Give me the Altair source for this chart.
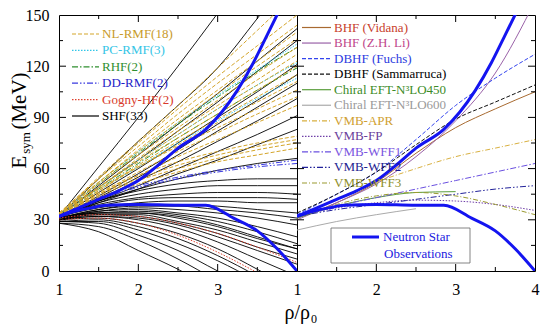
import altair as alt
import pandas as pd

W, H = 238, 256
FONT = "Liberation Serif, Times New Roman, serif"

# density grid (rho/rho0) shared by most model curves
RHO = [1.0, 1.5, 2.0, 2.5, 3.0, 3.5, 4.0]

# ---------------- left panel: phenomenological models ----------------
SHF = [
    [32, 61, 90, 120, 151, 182, 213],
    [32, 54, 76, 97, 119, 148, 178],
    [32, 50, 68, 86, 104, 123, 142],
    [32, 49, 65, 82, 99, 117, 135],
    [31, 46, 60, 75, 90, 105, 121],
    [31, 44, 57, 71, 86, 100, 115],
    [31, 43, 55, 68, 82, 96, 110],
    [31, 42, 53, 64, 76, 88, 101],
    [31, 41, 50, 60, 70, 80, 91],
    [31, 40, 48, 57, 65, 74, 83],
    [32, 41, 48, 54, 59, 63, 66],
    [32, 41, 47, 51, 53, 54, 54],
    [32, 40, 45, 48, 50, 50, 50],
    [32, 39, 43, 45, 46, 46, 45],
    [32, 38, 42, 43, 43, 43, 42],
    [32, 37, 40, 41, 41, 40, 40],
    [31, 36, 39, 39, 38, 36, 34],
    [31, 36, 38, 38, 36, 34, 31],
    [31, 35, 37, 36, 34, 31, 27],
    [31, 35, 36, 34, 31, 26, 20],
    [31, 34, 35, 33, 29, 23, 16],
    [30, 34, 34, 32, 27, 20, 13],
    [30, 34, 34, 31, 26, 19, 13],
    [30, 33, 33, 29, 24, 17, 10],
    [30, 33, 32, 28, 22, 14, 7],
    [30, 32, 31, 27, 20, 12, 4],
    [30, 32, 30, 25, 17, 7, -3],
    [30, 31, 28, 22, 13, 1, -12],
    [29, 30, 26, 19, 9, -3],
    [29, 29, 24, 16, 6, -6],
    [29, 28, 21, 12, 0, -12],
    [28, 26, 18, 7, -6],
    [28, 23, 12, 1, -12],
]
GOGNY = [
    [30, 31, 28, 21, 11, -1],
    [31, 33, 32, 28, 22, 14, 5],
]
DD_RMF = [
    [32, 42, 49, 54, 58, 61, 63],
    [32, 43, 50, 55, 59, 62, 65],
]
RHF = [
    [33, 51, 69, 86, 102, 117, 131],
    [32, 48, 63, 78, 92, 106, 119],
]
PC_RMF = [
    [33, 52, 70, 87, 103, 118, 133],
    [32, 49, 65, 80, 95, 109, 122],
    [32, 47, 61, 75, 88, 101, 113],
]
NL_RMF = [
    [33, 55, 76, 97, 119, 141, 163],
    [33, 54, 75, 95, 114, 132, 150],
    [34, 54, 73, 92, 110, 127, 144],
    [33, 52, 71, 89, 106, 123, 140],
    [34, 52, 70, 87, 104, 120, 136],
    [33, 51, 68, 84, 100, 116, 131],
    [32, 49, 66, 82, 97, 112, 127],
    [33, 49, 65, 80, 95, 109, 123],
    [34, 49, 64, 78, 92, 106, 120],
    [32, 47, 62, 76, 89, 102, 115],
    [33, 47, 61, 74, 87, 99, 111],
    [34, 48, 61, 73, 84, 95, 106],
    [32, 45, 58, 70, 81, 92, 102],
    [33, 45, 56, 67, 77, 87, 97],
    [33, 46, 56, 64, 70, 75, 79],
    [33, 45, 54, 62, 68, 73, 77],
    [32, 44, 53, 60, 66, 71, 75],
    [32, 43, 51, 58, 64, 68, 72],
]

# ---------------- neutron star observation bounds ----------------
NS_UP_RHO = [1.0, 1.25, 1.5, 1.75, 2.0, 2.25, 2.5, 2.85, 3.05, 3.25, 3.45, 3.6, 3.78]
NS_UP_E = [32, 37, 42, 47, 53, 62, 72, 83, 93, 106, 122, 136, 153]
NS_LO_RHO = [1.0, 1.2, 1.4, 1.6, 2.0, 2.5, 2.85, 3.2, 3.5, 3.75, 4.0]
NS_LO_E = [32, 35, 37, 38.5, 39, 38.5, 38.5, 31, 23.5, 13, 0]

# ---------------- right panel: microscopic models ----------------
RIGHT_LABELS = ["BHF (Vidana)", "BHF (Z.H. Li)", "DBHF (Fuchs)", "DBHF (Sammarruca)",
                "Chiral EFT-N³LO450", "Chiral EFT-N³LO600", "VMB-APR", "VMB-FP",
                "VMB-WFF1", "VMB-WFF2", "VMB-WFF3"]
RIGHT_E = [
    [31, 40, 52, 69, 84, 95, 105],
    [30, 40, 51, 67, 88, 116, 158],
    [33, 45, 58, 77, 97, 113, 127],
    [34, 45, 58, 74, 89, 99, 109],
    [31, 38, 43, 46, 46.5],
    [24, 29, 33, 36.5],
    [32, 42, 52, 60, 67, 72, 77],
    [32, 37, 40, 41.5, 41, 39, 35.5],
    [32, 38, 43, 48, 53, 58, 63],
    [32, 36, 39, 42, 45, 48, 50],
    [31, 39, 44, 46, 44, 39, 33],
]

LEFT_LABELS = ["NL-RMF(18)", "PC-RMF(3)", "RHF(2)", "DD-RMF(2)", "Gogny-HF(2)", "SHF(33)"]

X_MAJOR = [2, 3]
X_MINOR = [1.5, 2.5, 3.5]
Y_MAJOR = [30, 60, 90, 120]
Y_MINOR = [15, 45, 75, 105, 135]

# ---------------- styles ----------------
DASHED = [4, 2]
DOTTED = [1.5, 1.5]
DASHDOT = [6, 2, 1.5, 2]
DASHDOTDOT = [6, 2, 1.5, 2, 1.5, 2]
NS_COLOR = "#1414F0"

LEFT_STYLE = {
    "NL-RMF(18)": ("#D4A52A", "#C89B2A", DASHED),
    "PC-RMF(3)": ("#30C6E8", "#35C5E6", DOTTED),
    "RHF(2)": ("#2F8F2F", "#2F8F2F", DASHDOT),
    "DD-RMF(2)": ("#3A3AE0", "#1E1EC8", DASHDOTDOT),
    "Gogny-HF(2)": ("#E0412E", "#D83A2A", DOTTED),
    "SHF(33)": ("#000000", "#000000", None),
}
RIGHT_STYLE = [
    ("#A86A30", "#C8402C", None),
    ("#9A62A8", "#C0468A", None),
    ("#3344EE", "#2B3BE0", DASHED),
    ("#111111", "#000000", DASHED),
    ("#5A9E3C", "#3C8C28", None),
    ("#AAAAAA", "#9A9A9A", None),
    ("#D8B040", "#D0A030", [5, 2, 1, 2]),
    ("#7040A8", "#6A3D9A", DOTTED),
    ("#6A50E0", "#7A55E0", DASHDOT),
    ("#22229A", "#1E1E90", DASHDOTDOT),
    ("#9A9A30", "#8E8E2A", [5, 2, 1, 2]),
]

xs = alt.Scale(domain=[1, 4], nice=False, zero=False)
ys = alt.Scale(domain=[0, 150], nice=False, zero=False)


def xaxis(vals):
    return alt.Axis(values=vals, format="d", ticks=False, tickSize=0, domain=False, grid=False,
                    labelFont=FONT, labelFontSize=16, labelColor="black", labelPadding=10,
                    labelFlush=False, labelOverlap=False, title=None)


YAXIS = alt.Axis(values=[0, 30, 60, 90, 120, 150], format="d", ticks=False, tickSize=0,
                 domain=False, grid=False, labelFont=FONT, labelFontSize=16, labelColor="black",
                 labelPadding=10, labelFlush=False, labelOverlap=False, title=None)

dummy = pd.DataFrame({"a": [1]})


def curves(rho, e_lists, name, color, dash, width, xa, ya):
    rows = []
    for i, es in enumerate(e_lists):
        for r, e in zip(rho, es):
            rows.append({"m": f"{name}{i}", "rho": r, "E": e})
    kw = dict(clip=True, interpolate="monotone", color=color, strokeWidth=width)
    if dash:
        kw["strokeDash"] = dash
    return alt.Chart(pd.DataFrame(rows)).mark_line(**kw).encode(
        x=alt.X("rho:Q", scale=xs, axis=xa),
        y=alt.Y("E:Q", scale=ys, axis=ya),
        detail="m:N",
    )


def tick_layers(xa, ya):
    out = []
    for vals, ln in ((X_MAJOR, 7), (X_MINOR, 4)):
        d = pd.DataFrame({"rho": vals})
        out.append(alt.Chart(d).mark_rule(color="black").encode(
            x=alt.X("rho:Q", scale=xs, axis=xa), y=alt.value(H), y2=alt.value(H - ln)))
        out.append(alt.Chart(d).mark_rule(color="black").encode(
            x=alt.X("rho:Q", scale=xs, axis=xa), y=alt.value(0), y2=alt.value(ln)))
    for vals, ln in ((Y_MAJOR, 7), (Y_MINOR, 4)):
        d = pd.DataFrame({"E": vals})
        out.append(alt.Chart(d).mark_rule(color="black").encode(
            y=alt.Y("E:Q", scale=ys, axis=ya), x=alt.value(0), x2=alt.value(ln)))
        out.append(alt.Chart(d).mark_rule(color="black").encode(
            y=alt.Y("E:Q", scale=ys, axis=ya), x=alt.value(W), x2=alt.value(W - ln)))
    return out


def legend_row(x0, x1, xt, y, label, lcolor, tcolor, dash, width=1.2, size=13):
    kw = dict(color=lcolor, strokeWidth=width)
    if dash:
        kw["strokeDash"] = dash
    r = alt.Chart(dummy).mark_rule(**kw).encode(
        x=alt.value(x0), x2=alt.value(x1), y=alt.value(y))
    t = alt.Chart(dummy).mark_text(align="left", baseline="middle", font=FONT,
                                   fontSize=size, color=tcolor).encode(
        x=alt.value(xt), y=alt.value(y), text=alt.value(label))
    return [r, t]


def text(x, y, s, size, angle=0, align="center", baseline="alphabetic", color="black"):
    return alt.Chart(dummy).mark_text(font=FONT, fontSize=size, angle=angle, align=align,
                                      baseline=baseline, color=color).encode(
        x=alt.value(x), y=alt.value(y), text=alt.value(s))


# ---------------- left panel ----------------
xa_l = xaxis([1, 2, 3])
left_layers = []
left_layers.append(curves(RHO, SHF, "shf", "#000000", None, 0.9, xa_l, YAXIS))
for name, data in (("Gogny-HF(2)", GOGNY), ("DD-RMF(2)", DD_RMF), ("RHF(2)", RHF),
                   ("PC-RMF(3)", PC_RMF), ("NL-RMF(18)", NL_RMF)):
    lc, tc, dash = LEFT_STYLE[name]
    left_layers.append(curves(RHO, data, name, lc, dash, 1.0, xa_l, YAXIS))
left_layers.append(curves(NS_UP_RHO, [NS_UP_E], "nsu", NS_COLOR, None, 3, xa_l, YAXIS))
left_layers.append(curves(NS_LO_RHO, [NS_LO_E], "nsl", NS_COLOR, None, 3, xa_l, YAXIS))
left_layers += tick_layers(xa_l, YAXIS)
for i, lab in enumerate(LEFT_LABELS):
    lc, tc, dash = LEFT_STYLE[lab]
    left_layers += legend_row(13, 40, 43, 19 + 16.4 * i, lab, lc, tc, dash)
# y-axis title E_sym (MeV)
left_layers.append(text(-33, 147, "E", 21, angle=270))
left_layers.append(text(-29, 128, "sym", 13, angle=270))
left_layers.append(text(-33, 86, "(MeV)", 21, angle=270))

left = alt.layer(*left_layers).properties(width=W, height=H)

# ---------------- right panel ----------------
xa_r = xaxis([1, 2, 3, 4])
right_layers = []
for i, (lab, es) in enumerate(zip(RIGHT_LABELS, RIGHT_E)):
    lc, tc, dash = RIGHT_STYLE[i]
    right_layers.append(curves(RHO, [es], f"r{i}", lc, dash, 1.0, xa_r, None))
right_layers.append(curves(NS_UP_RHO, [NS_UP_E], "nsu", NS_COLOR, None, 3, xa_r, None))
right_layers.append(curves(NS_LO_RHO, [NS_LO_E], "nsl", NS_COLOR, None, 3, xa_r, None))
right_layers += tick_layers(xa_r, None)
for i, lab in enumerate(RIGHT_LABELS):
    lc, tc, dash = RIGHT_STYLE[i]
    right_layers += legend_row(5, 34, 37, 12.5 + 15.55 * i, lab, lc, tc, dash)
# neutron star legend box
right_layers.append(alt.Chart(dummy).mark_rect(fill="white", stroke="#666666", strokeWidth=0.8).encode(
    x=alt.value(34), x2=alt.value(173), y=alt.value(213), y2=alt.value(248)))
right_layers += legend_row(55, 82, 86, 222, "Neutron Star", NS_COLOR, "#2020E0", None, width=3)
right_layers.append(text(87, 239, "Observations", 13, align="left", baseline="middle", color="#2020E0"))
# x-axis title rho/rho0
right_layers.append(text(13, 304, "ρ/ρ", 20, align="right"))
right_layers.append(text(14, 308, "0", 12, align="left"))

right = alt.layer(*right_layers).properties(width=W, height=H)

chart = alt.hconcat(left, right, spacing=0, bounds="flush").properties(
    padding={"left": 0, "top": -2, "right": 0, "bottom": 0}
).configure_view(stroke="black", strokeWidth=1)

chart.save("out.html", embed_options={"renderer": "svg", "actions": False})
